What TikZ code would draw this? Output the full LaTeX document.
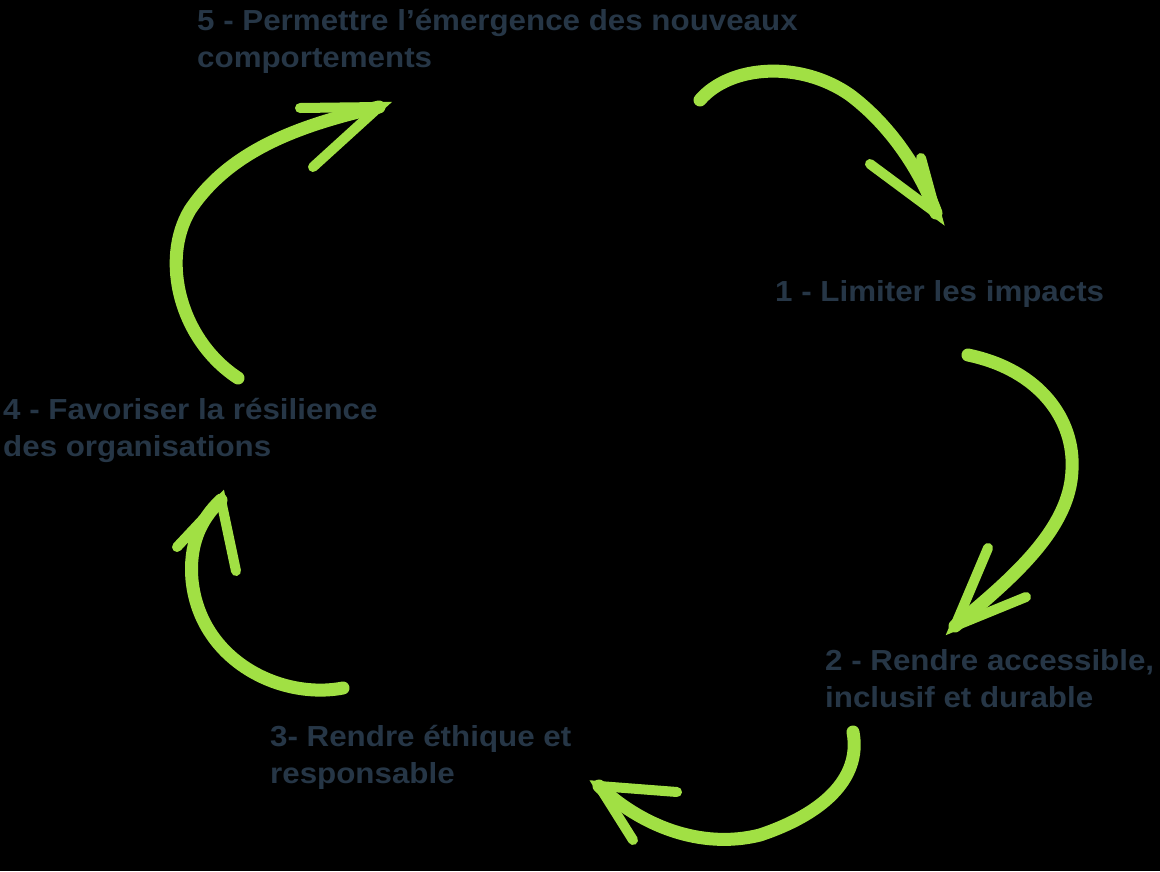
\documentclass[tikz,border=0pt]{standalone}
\usepackage{fontspec}
\setmainfont{Liberation Sans}[FakeStretch=1.08]
\usepackage{xcolor}

\definecolor{slate}{HTML}{263646}
\definecolor{lime}{HTML}{A1E044}

\tikzset{
  label/.style={anchor=base west, inner sep=0pt, align=left, text=slate,
    font=\fontsize{29}{37}\selectfont\bfseries},
  brush/.style={draw=lime, line width=13pt, line cap=round, line join=round},
  barbs/.style={draw=lime, line width=10pt, line cap=round, line join=miter}
}

\begin{document}
\begin{tikzpicture}[x=1pt,y=-1pt]
\fill[black] (0,0) rectangle (1160,871);
\useasboundingbox (0,0) rectangle (1160,871);

% labels (anchored at the baseline of the last line)
\node[label] (emerge) at (197,67) {5 - Permettre l’émergence des nouveaux\\comportements};
\node[label] (impact) at (775,301) {1 - Limiter les impacts};
\node[label] (access) at (825,707) {2 - Rendre accessible,\\inclusif et durable};
\node[label] (ethic) at (270,783) {3- Rendre éthique et\\responsable};
\node[label] (resil) at (3,456) {4 - Favoriser la résilience\\des organisations};

% arrow ends
\coordinate (a1) at (700,100);
\coordinate (a2) at (936,213);
\coordinate (b1) at (968,355);
\coordinate (b2) at (955,626);
\coordinate (c1) at (853,732);
\coordinate (c2) at (599,786);
\coordinate (d1) at (343,688);
\coordinate (d2) at (221,500);
\coordinate (e1) at (238,378);
\coordinate (e2) at (379,107);

% 5 -> 1
\draw[brush] (a1) .. controls (730,65) and (800,60) .. (850,95)
  .. controls (890,125) and (920,170) .. (a2);
\draw[barbs] (870,164) -- (a2) -- (921,158);
% 1 -> 2
\draw[brush] (b1) .. controls (1040,370) and (1075,420) .. (1072,470)
  .. controls (1070,530) and (1010,580) .. (b2);
\draw[barbs] (988,548) -- (b2) -- (1026,597);
% 2 -> 3
\draw[brush] (c1) .. controls (862,780) and (820,815) .. (760,835)
  .. controls (700,850) and (640,825) .. (c2);
\draw[barbs] (677,792) -- (c2) -- (633,840);
% 3 -> 4
\draw[brush] (d1) .. controls (280,700) and (200,660) .. (192,580)
  .. controls (189,545) and (200,520) .. (d2);
\draw[barbs] (177,547) -- (d2) -- (236,571);
% 4 -> 5
\draw[brush] (e1) .. controls (180,340) and (160,260) .. (190,210)
  .. controls (230,150) and (300,125) .. (e2);
\draw[barbs] (300,108) -- (e2) -- (313,167);
\end{tikzpicture}
\end{document}
